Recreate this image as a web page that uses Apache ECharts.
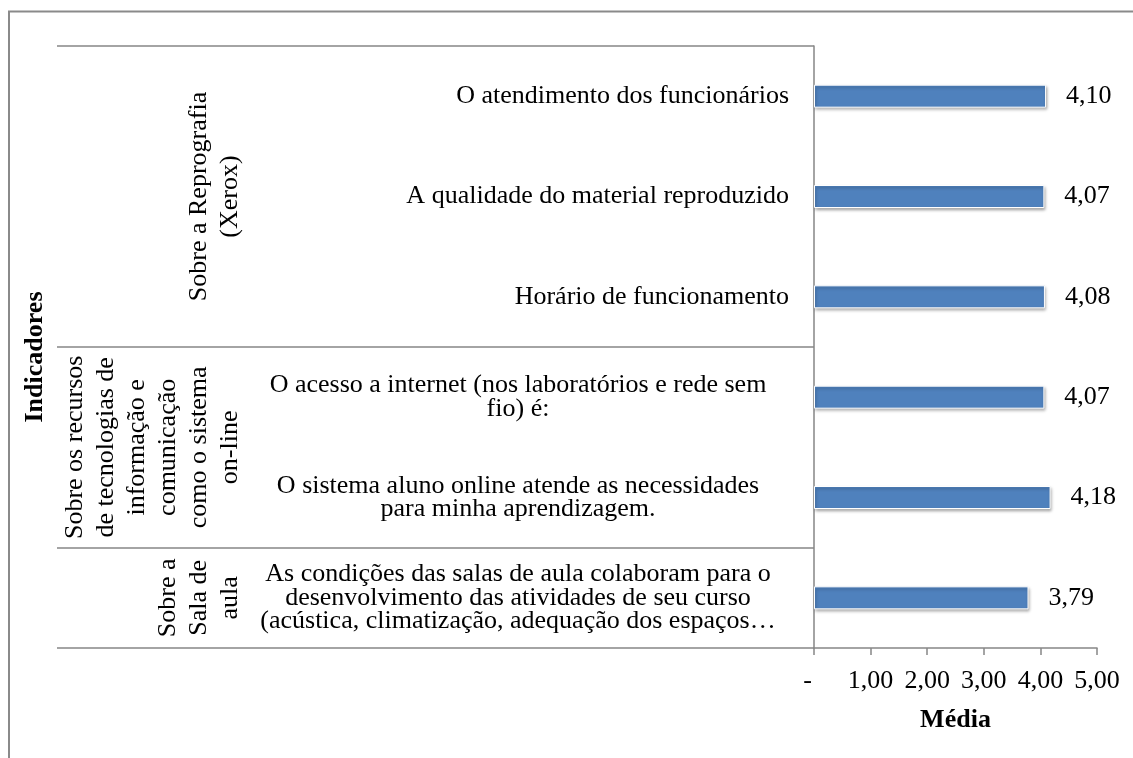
<!DOCTYPE html>
<html>
<head>
<meta charset="utf-8">
<script src="https://cdn.jsdelivr.net/npm/echarts@6/dist/echarts.min.js"></script>
<style>
  html, body { margin: 0; padding: 0; background: #fff; }
  #chart { width: 1133px; height: 758px; }
</style>
</head>
<body>
<div id="chart"></div>
<script>
// categories, top to bottom (line breaks as wrapped in the original)
var categories = [
  'O atendimento dos funcionários',
  'A qualidade do material reproduzido',
  'Horário de funcionamento',
  'O acesso a internet (nos laboratórios e rede sem\nfio) é:',
  'O sistema aluno online atende as necessidades\npara minha aprendizagem.',
  'As condições das salas de aula colaboram para o\ndesenvolvimento das atividades de seu curso\n(acústica, climatização, adequação dos espaços…'
];
var values = [4.10, 4.07, 4.08, 4.07, 4.18, 3.79];

// outer level of the category axis
var groupNames = [
  'Sobre a Reprografia\n(Xerox)',
  'Sobre os recursos\nde tecnologias de\ninformação e\ncomunicação\ncomo o sistema\non-line',
  'Sobre a\nSala de\naula'
];
var groupSizes = [3, 2, 1];

var xTickLabels = ['-  ', '1,00', '2,00', '3,00', '4,00', '5,00'];

var FONT = '"Liberation Serif", "Times New Roman", serif';
var LINE = '#868686';

// first category index of each group -> where the divider ticks go
var groupStarts = [];
var acc = 0;
groupSizes.forEach(function (n) { groupStarts.push(acc); acc += n; });

function fmt(v) {
  return v.toFixed(2).replace('.', ',');
}

var chart = echarts.init(document.getElementById('chart'));

chart.setOption({
  animation: false,
  backgroundColor: '#fff',
  grid: {
    left: 814,
    right: 36,
    top: 46,
    bottom: 110,
    outerBoundsMode: 'none'
  },
  xAxis: {
    type: 'value',
    min: 0,
    max: 5,
    interval: 1,
    axisLine: { show: true, lineStyle: { color: LINE, width: 1.5 } },
    axisTick: { show: true, length: 7, lineStyle: { color: LINE, width: 1.5 } },
    splitLine: { show: false },
    axisLabel: {
      margin: 20,
      fontFamily: FONT,
      fontSize: 26,
      color: '#000',
      formatter: function (v) { return xTickLabels[Math.round(v)]; }
    },
    name: 'Média',
    nameLocation: 'middle',
    nameGap: 59,
    nameTextStyle: { fontFamily: FONT, fontSize: 26, fontWeight: 'bold', color: '#000' }
  },
  yAxis: {
    type: 'category',
    data: categories,
    inverse: true,
    axisLine: { show: true, lineStyle: { color: LINE, width: 1.5 } },
    axisTick: {
      show: true,
      length: 757,
      interval: function (i) { return groupStarts.indexOf(i) >= 0; },
      lineStyle: { color: LINE, width: 1.5 }
    },
    axisLabel: {
      interval: 0,
      margin: 25,
      width: 542,
      overflow: 'none',
      align: 'right',
      fontFamily: FONT,
      fontSize: 26,
      lineHeight: 23.3,
      color: '#000',
      formatter: function (v) {
        return v.indexOf('\n') >= 0 ? '{c|' + v + '}' : v;
      },
      rich: {
        c: { align: 'center', fontFamily: FONT, fontSize: 26, lineHeight: 23.3, color: '#000' }
      }
    }
  },
  series: [{
    type: 'bar',
    data: values,
    barWidth: 23,
    silent: true,
    itemStyle: {
      color: '#4F81BD',
      borderColor: '#fff',
      borderWidth: 1,
      shadowColor: 'rgba(0,0,0,0.35)',
      shadowBlur: 3,
      shadowOffsetX: 1,
      shadowOffsetY: 2
    },
    label: {
      show: true,
      position: 'right',
      distance: 20,
      fontFamily: FONT,
      fontSize: 26,
      color: '#000',
      formatter: function (p) { return fmt(p.value); }
    }
  }]
});

// group labels centred on their categories
var graphics = [
  {
    type: 'rect',
    silent: true,
    shape: { x: 9, y: 11.5, width: 1200, height: 800 },
    style: { fill: 'none', stroke: '#8a8a8a', lineWidth: 2 }
  },
  {
    type: 'text',
    x: 35,
    y: 357,
    rotation: Math.PI / 2,
    style: {
      text: 'Indicadores',
      fontFamily: FONT,
      fontSize: 26,
      fontWeight: 'bold',
      fill: '#000',
      align: 'center',
      verticalAlign: 'middle'
    }
  }
];

groupNames.forEach(function (name, g) {
  var first = groupStarts[g];
  var last = first + groupSizes[g] - 1;
  var y0 = chart.convertToPixel({ yAxisIndex: 0 }, first);
  var y1 = chart.convertToPixel({ yAxisIndex: 0 }, last);
  graphics.push({
    type: 'text',
    x: 245.5,
    y: (y0 + y1) / 2,
    rotation: Math.PI / 2,
    style: {
      text: name,
      fontFamily: FONT,
      fontSize: 26,
      lineHeight: 31,
      fill: '#000',
      align: 'center',
      verticalAlign: 'bottom'
    }
  });
});

chart.setOption({ graphic: graphics });
</script>
</body>
</html>
